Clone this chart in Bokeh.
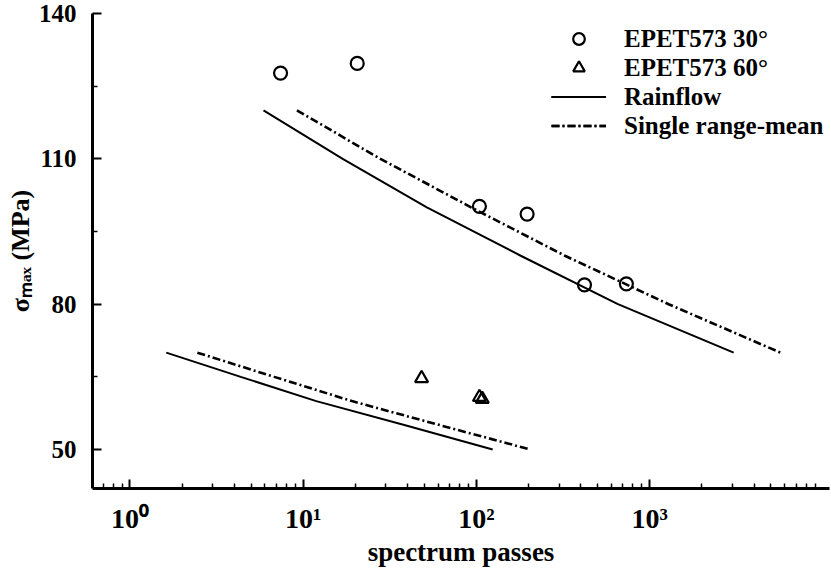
from bokeh.plotting import figure
from bokeh.models import FixedTicker, CustomJSTickFormatter, Legend, LegendItem
from bokeh.embed import file_html
from bokeh.resources import INLINE

# --- measured fatigue data ---------------------------------------------------
ep30_passes = [7.4, 20.5, 104, 196, 420, 733]
ep30_smax = [127.7, 129.7, 100.2, 98.6, 84.0, 84.2]

ep60_passes = [48.2, 104, 108]
ep60_smax = [64.7, 60.8, 60.4]

# --- predictions --------------------------------------------------------------
rain_hi_passes = [5.9, 16.9, 51.7, 180, 655, 3050]
rain_hi_smax = [120, 110, 100, 90, 80, 70]
rain_lo_passes = [1.62, 4.36, 11.9, 38.8, 124]
rain_lo_smax = [70, 65, 60, 55, 50]

srm_hi_passes = [9.2, 27.9, 93, 324, 1285, 5680]
srm_hi_smax = [120, 110, 100, 90, 80, 70]
srm_lo_passes = [2.45, 6.8, 19.1, 62, 205]
srm_lo_smax = [70, 65, 60, 55, 50]

# --- axes ---------------------------------------------------------------------
x_major = [1, 10, 100, 1000]
x_major_labels = ["10⁰", "10¹", "10²", "10³"]
x_minor = [0.7, 0.8, 0.9] + [m * 10 ** d for d in range(0, 4) for m in range(2, 10)]
y_major = [50, 80, 110, 140]
y_minor = [65, 95, 125]
x_lo, x_hi = 0.608, 10900
y_lo, y_hi = 41.96, 140

FONT = "Liberation Serif"

p = figure(width=831, height=569, x_axis_type="log",
           x_range=(x_lo, x_hi), y_range=(y_lo, y_hi),
           output_backend="svg", toolbar_location=None,
           min_border_left=92, min_border_right=2,
           min_border_top=13, min_border_bottom=81)
p.outline_line_color = None
p.xgrid.visible = False
p.ygrid.visible = False
p.background_fill_color = "white"
p.border_fill_color = "white"

for ax in (p.xaxis[0], p.yaxis[0]):
    ax.axis_line_width = 3
    ax.axis_line_color = "black"
    ax.major_tick_in = 9
    ax.major_tick_out = 0
    ax.minor_tick_in = 5
    ax.minor_tick_out = 0
    ax.major_tick_line_width = 2
    ax.minor_tick_line_width = 1.5
    ax.major_tick_line_color = "black"
    ax.minor_tick_line_color = "black"
    ax.major_label_text_font = FONT
    ax.major_label_text_font_style = "bold"
    ax.major_label_text_color = "black"
    ax.axis_label_text_font = FONT
    ax.axis_label_text_font_style = "bold"
    ax.axis_label_text_color = "black"

xa = p.xaxis[0]
xa.ticker = FixedTicker(ticks=x_major, minor_ticks=x_minor)
xa.formatter = CustomJSTickFormatter(
    args=dict(decades=x_major, names=x_major_labels),
    code="const i = decades.indexOf(tick); return i >= 0 ? names[i] : '';")
xa.major_label_text_font_size = "28px"
xa.major_label_standoff = 14
xa.axis_label = "spectrum passes"
xa.axis_label_text_font_size = "27px"
xa.axis_label_standoff = 0

ya = p.yaxis[0]
ya.ticker = FixedTicker(ticks=y_major, minor_ticks=y_minor)
ya.major_label_text_font_size = "25px"
ya.major_label_standoff = 16
ya.major_label_orientation = "horizontal"
ya.axis_label = "σₘₐₓ (MPa)"
ya.axis_label_text_font_size = "26px"
ya.axis_label_standoff = 1

# --- marks --------------------------------------------------------------------
r_rain_hi = p.line(rain_hi_passes, rain_hi_smax, line_color="black", line_width=2)
r_rain_lo = p.line(rain_lo_passes, rain_lo_smax, line_color="black", line_width=2)
r_srm_hi = p.line(srm_hi_passes, srm_hi_smax, line_color="black", line_width=2.6,
                  line_dash="8 3 2 3")
r_srm_lo = p.line(srm_lo_passes, srm_lo_smax, line_color="black", line_width=2.6,
                  line_dash="8 3 2 3")
r_30 = p.scatter(ep30_passes, ep30_smax, marker="circle", size=13,
                 fill_color=None, line_color="black", line_width=2.2)
r_60 = p.scatter(ep60_passes, ep60_smax, marker="triangle", size=13,
                 fill_color=None, line_color="black", line_width=2.2)

legend = Legend(items=[
    LegendItem(label="EPET573 30°", renderers=[r_30]),
    LegendItem(label="EPET573 60°", renderers=[r_60]),
    LegendItem(label="Rainflow", renderers=[r_rain_hi, r_rain_lo]),
    LegendItem(label="Single range-mean", renderers=[r_srm_hi, r_srm_lo]),
], location=(459, 348))
legend.border_line_color = None
legend.background_fill_alpha = 0
legend.label_text_font = FONT
legend.label_text_font_style = "bold"
legend.label_text_font_size = "25px"
legend.label_text_color = "black"
legend.glyph_width = 55
legend.glyph_height = 29
legend.label_height = 29
legend.label_standoff = 18
legend.spacing = 0
legend.padding = 6
legend.margin = 0
p.add_layout(legend)

open("out.html", "w").write(file_html(p, INLINE))
